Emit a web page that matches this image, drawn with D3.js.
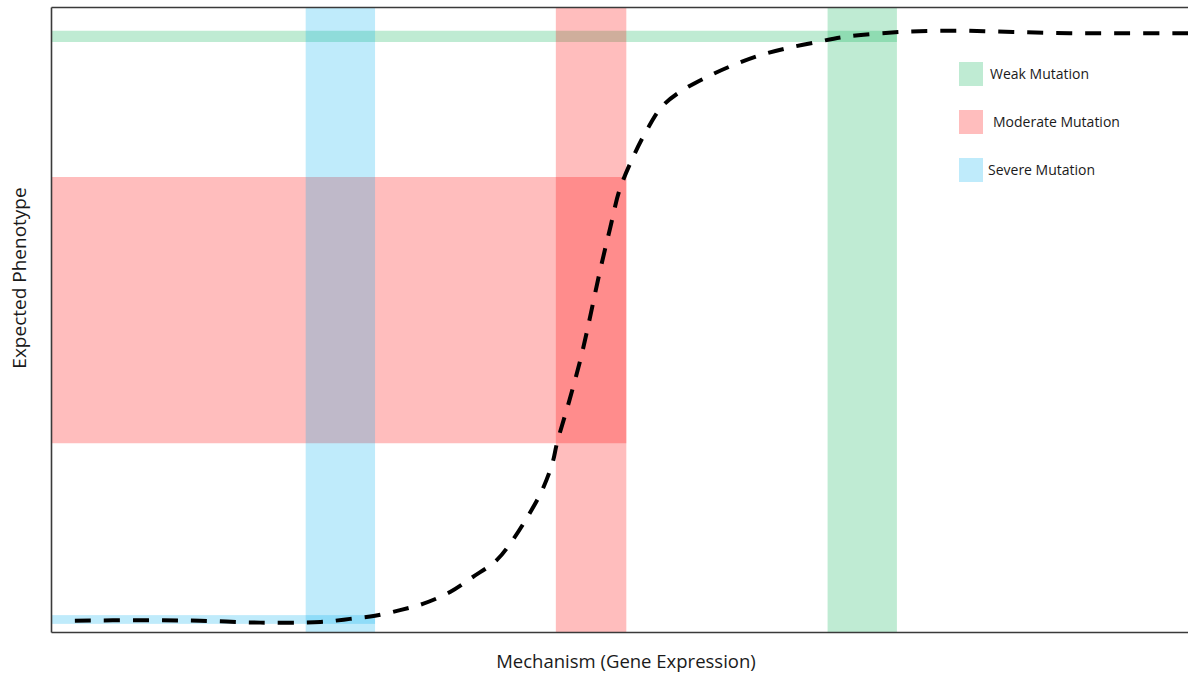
<!DOCTYPE html>
<html>
<head>
<meta charset="utf-8">
<script src="https://cdn.jsdelivr.net/npm/d3@7"></script>
<style>
  html, body { margin: 0; padding: 0; background: #fff; }
  svg { display: block; font-family: "Open Sans", "Noto Sans", sans-serif; }
</style>
</head>
<body>
<svg id="chart" width="1188" height="675"></svg>
<script>
// ---- Data (x: gene expression 0-100, y: phenotype 0-100) ----
const curveX = [2.1, 7.8, 13.1, 18.4, 23.7, 26.3, 28.5, 30.7, 32.7, 35.1, 37.1, 39.2, 40.6, 42.1, 43.2, 44.1, 44.5, 45.6, 46.7, 48.3, 49.2, 50.0, 51.2, 52.4, 53.7, 55.3, 57.7, 60.0, 62.4, 64.7, 67.4, 69.7, 74.7, 79.7, 84.6, 89.6, 94.7, 100];
const curveY = [1.8, 1.9, 1.8, 1.5, 1.6, 2.1, 2.6, 3.5, 4.5, 6.4, 8.8, 11.5, 14.7, 19.0, 22.7, 27.0, 30.2, 37.1, 44.6, 57.9, 64.8, 70.7, 76.0, 80.3, 84.0, 86.4, 88.8, 90.7, 92.3, 93.4, 94.4, 95.2, 96.0, 96.2, 96.0, 95.8, 95.8, 95.8];

const mutations = ["Weak Mutation", "Moderate Mutation", "Severe Mutation"];
const mutationColors = ["rgb(0,176,80)", "rgb(255,0,0)", "rgb(0,176,240)"];
const mutationOpacity = [0.25, 0.26, 0.25];
// vertical bands (expression range) per mutation
const bandX0 = [68.3, 44.4, 22.4];
const bandX1 = [74.4, 50.6, 28.5];
// horizontal bands (phenotype range) per mutation, from x=0 to band end
const bandY0 = [94.4, 30.2, 1.3];
const bandY1 = [96.2, 72.8, 2.7];

const xLabel = "Mechanism (Gene Expression)";
const yLabel = "Expected Phenotype";

// ---- Layout ----
const svg = d3.select("#chart");
const W = 1188, H = 675;
const margin = { left: 51, right: 0, top: 7, bottom: 43 };
const x = d3.scaleLinear().domain([0, 100]).range([margin.left, W - margin.right]);
const y = d3.scaleLinear().domain([0, 100]).range([H - margin.bottom, margin.top]);

const order = [2, 1, 0]; // draw severe, moderate, weak

const gH = svg.append("g");
// horizontal bands
order.forEach(i => {
  gH.append("rect")
    .attr("x", x(0))
    .attr("width", x(bandX1[i]) - x(0))
    .attr("y", y(bandY1[i]))
    .attr("height", y(bandY0[i]) - y(bandY1[i]))
    .attr("fill", mutationColors[i])
    .attr("fill-opacity", mutationOpacity[i]);
});
// vertical bands
order.forEach(i => {
  gH.append("rect")
    .attr("x", x(bandX0[i]))
    .attr("width", x(bandX1[i]) - x(bandX0[i]))
    .attr("y", y(100))
    .attr("height", y(0) - y(100))
    .attr("fill", mutationColors[i])
    .attr("fill-opacity", mutationOpacity[i]);
});

// curve
const pts = curveX.map((d, i) => [d, curveY[i]]);
const line = d3.line().x(d => x(d[0])).y(d => y(d[1])).curve(d3.curveCatmullRom.alpha(0.5));
svg.append("path")
  .datum(pts)
  .attr("d", line)
  .attr("fill", "none")
  .attr("stroke", "#000")
  .attr("stroke-width", 4)
  .attr("stroke-dasharray", "16,13");

// frame (axes without ticks)
const xAxisB = d3.axisBottom(x).tickValues([]).tickSizeOuter(0);
const xAxisT = d3.axisTop(x).tickValues([]).tickSizeOuter(0);
const yAxisL = d3.axisLeft(y).tickValues([]).tickSizeOuter(0);
[ [xAxisB, `translate(0,${y(0)})`], [xAxisT, `translate(0,${y(100)})`], [yAxisL, `translate(${x(0)},0)`] ]
  .forEach(([ax, tr]) => {
    const g = svg.append("g").attr("transform", tr).call(ax);
    g.select(".domain").attr("stroke", "#3a3a3a").attr("stroke-width", 1.6);
  });

// axis labels
svg.append("text")
  .attr("x", 626)
  .attr("y", 668)
  .attr("text-anchor", "middle")
  .attr("font-size", 18.5)
  .attr("fill", "#1a1a1a")
  .text(xLabel);
svg.append("text")
  .attr("transform", `translate(26,${278}) rotate(-90)`)
  .attr("text-anchor", "middle")
  .attr("font-size", 19)
  .attr("fill", "#1a1a1a")
  .text(yLabel);

// legend
const legend = svg.append("g");
const legendTextX = [990, 993, 988];
mutations.forEach((m, i) => {
  const cy = 74 + i * 48;
  legend.append("rect")
    .attr("x", 959).attr("y", cy - 12)
    .attr("width", 24).attr("height", 24)
    .attr("fill", mutationColors[i])
    .attr("fill-opacity", mutationOpacity[i]);
  legend.append("text")
    .attr("x", legendTextX[i]).attr("y", cy + 5)
    .attr("font-size", 14)
    .attr("fill", "#1a1a1a")
    .text(m);
});
</script>
</body>
</html>
